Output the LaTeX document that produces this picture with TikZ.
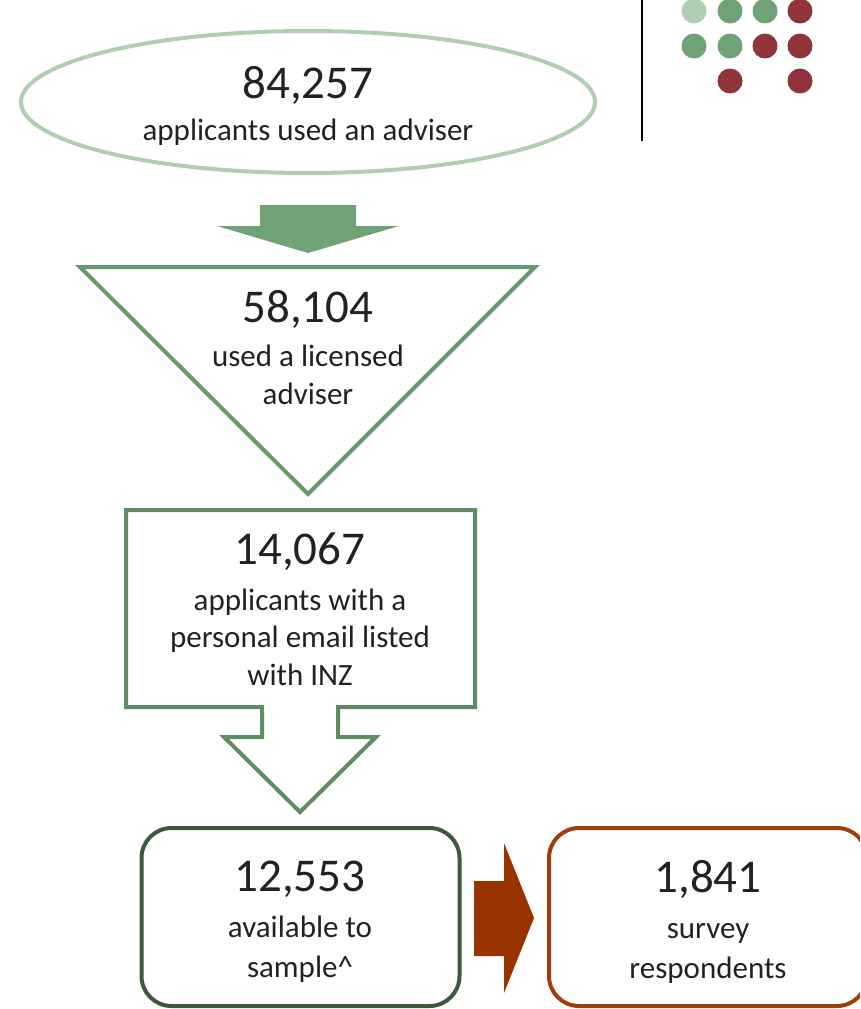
\documentclass[tikz,border=0pt]{standalone}
\usepackage{fontspec}
\setmainfont{Carlito}
\usetikzlibrary{positioning,shapes.geometric}
\definecolor{palegreen}{HTML}{B0CFB2}
\definecolor{midgreen}{HTML}{6FA276}
\definecolor{linegreen}{HTML}{679B6D}
\definecolor{boxgreen}{HTML}{5C8E61}
\definecolor{darkgreen}{HTML}{3C5A3E}
\definecolor{rust}{HTML}{993300}
\definecolor{rustline}{HTML}{A33D0C}
\definecolor{dotred}{HTML}{8F353A}
\definecolor{inkgrey}{HTML}{222222}
\tikzset{
  numtxt/.style={font=\fontsize{47}{56}\selectfont, text=inkgrey, inner sep=0pt},
  lbltxt/.style={font=\fontsize{31}{37.5}\selectfont, text=inkgrey, align=center, inner sep=0pt},
  boxtxt/.style={lbltxt, font=\fontsize{31}{40}\selectfont},
  roundbox/.style={draw, rounded corners=30pt, line width=4pt, minimum width=318pt, minimum height=178pt},
  dot/.style={circle, inner sep=0pt, minimum size=25pt}
}

\begin{document}
\begin{tikzpicture}[x=1pt, y=-1pt]
  \useasboundingbox (0,0) rectangle (860,1009);
  \clip (0,0) rectangle (860,1009);
  % corner mark
  \draw[line width=2pt] (642,0) -- (642,141);
  \foreach \col/\x in {palegreen/694, midgreen/730, midgreen/765, dotred/800}
    \node[dot, fill=\col] at (\x,11) {};
  \foreach \col/\x in {midgreen/694, midgreen/730, dotred/765, dotred/800}
    \node[dot, fill=\col] at (\x,46) {};
  \foreach \x in {730, 800}
    \node[dot, fill=dotred] at (\x,81) {};
  % step 1
  \node[ellipse, draw=palegreen, line width=4pt, minimum width=574pt, minimum height=142pt] (all) at (308,102) {};
  \node[numtxt] (allnum) at (308,85) {84,257};
  \node[lbltxt] (alltxt) at (308,132) {applicants used an adviser};
  % step 2
  \fill[midgreen] (260,205) -- (356,205) -- (356,226) -- (399,226) -- (308,253)
    -- (217,226) -- (260,226) -- cycle;
  \draw[linegreen, line width=4pt, line join=miter] (80,267) -- (535,267) -- (308,494) -- cycle;
  \node[numtxt] (licnum) at (308,309) {58,104};
  \node[lbltxt] (lictxt) at (308,375) {used a licensed\\adviser};
  % step 3
  \draw[boxgreen, line width=4pt, line join=miter] (126,510) -- (475,510) -- (475,707)
    -- (338,707) -- (338,737) -- (376,737) -- (300,812) -- (224,737) -- (262,737)
    -- (262,707) -- (126,707) -- cycle;
  \node[numtxt] (mailnum) at (300,552) {14,067};
  \node[lbltxt] (mailtxt) at (300,637) {applicants with a\\personal email listed\\with INZ};
  % step 4
  \node[roundbox, draw=darkgreen] (avail) at (300.5,917) {};
  \node[numtxt] (availnum) at (300,879) {12,553};
  \node[boxtxt] (availtxt) at (300,949.5) {available to\\sample\^{}};
  \fill[rust] (474,881) -- (504,881) -- (504,843) -- (534,918) -- (504,993)
    -- (504,956) -- (474,956) -- cycle;
  \node[roundbox, draw=rustline] (resp) at (708,917) {};
  \node[numtxt] (respnum) at (708,879) {1,841};
  \node[boxtxt] (resptxt) at (708,953) {survey\\respondents};
\end{tikzpicture}
\end{document}
